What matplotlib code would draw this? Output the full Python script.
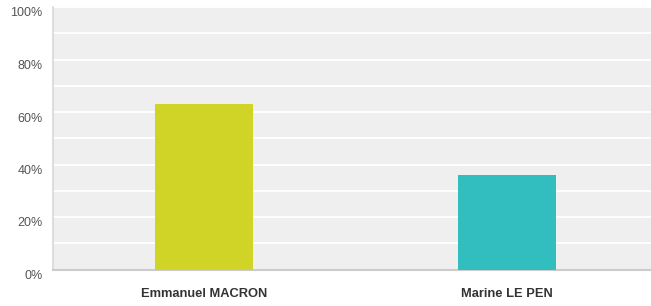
import numpy as np
import matplotlib
matplotlib.use("Agg")
import matplotlib.pyplot as plt
import matplotlib.transforms as mtransforms
from matplotlib.ticker import MultipleLocator, FuncFormatter

candidates = ["Emmanuel MACRON", "Marine LE PEN"]
scores = [63.0, 36.0]
bar_colors = ["#d0d426", "#32bdbf"]

plt.rcParams['font.family'] = ['Liberation Sans', 'DejaVu Sans']

W, H = 651, 306
fig = plt.figure(figsize=(W / 100, H / 100), dpi=100)
# axes slightly wider than the picture, the right side is cut off like the original
left, right, top, bottom = 52.5, 658.5, 7, 269.5
ax = fig.add_axes([left / W, 1 - bottom / H, (right - left) / W, (bottom - top) / H])

ax.set_facecolor("#efefef")
x = np.arange(len(candidates))
ax.bar(x, scores, width=0.323, color=bar_colors, zorder=3)

ax.set_xlim(-0.5, 1.5)
ax.set_ylim(0, 100)
ax.yaxis.set_major_locator(MultipleLocator(20))
ax.yaxis.set_minor_locator(MultipleLocator(10))
ax.yaxis.set_major_formatter(FuncFormatter(lambda v, p: "%d%%" % v))
ax.grid(True, axis="y", which="both", color="white", linewidth=1.3, zorder=1)
ax.set_axisbelow(True)

ax.set_xticks(x)
ax.set_xticklabels(candidates, fontsize=9.3, fontweight="bold", color="#333333")
ax.tick_params(axis="x", length=0, pad=13.5)
ax.tick_params(axis="y", which="both", length=0, pad=7, labelsize=9, labelcolor="#555555")
# labels sit a little below their gridlines
offset = mtransforms.ScaledTranslation(0, -5 / 100, fig.dpi_scale_trans)
for lab in ax.get_yticklabels():
    lab.set_transform(lab.get_transform() + offset)

for side in ["top", "right"]:
    ax.spines[side].set_visible(False)
ax.spines["left"].set_color("#d8d8d8")
ax.spines["bottom"].set_color("#cccccc")
ax.spines["left"].set_linewidth(1.2)
ax.spines["bottom"].set_linewidth(1.5)

fig.savefig("out.png", dpi=100)
